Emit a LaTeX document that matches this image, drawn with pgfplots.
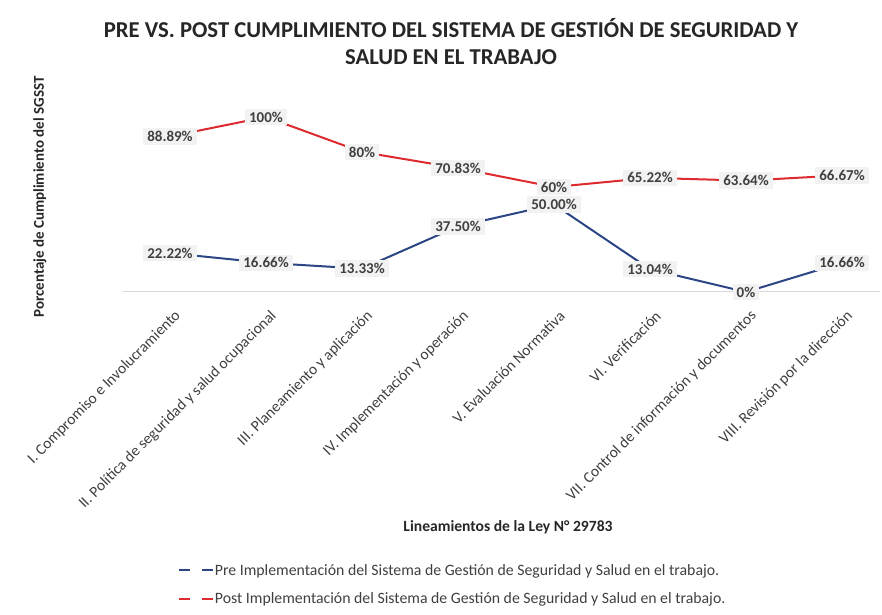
\documentclass[border=0pt]{standalone}
\usepackage{pgfplots}
\pgfplotsset{compat=1.18}
\usepackage{fontspec}
\setmainfont{Carlito}
\definecolor{preblue}{HTML}{2B4585}
\definecolor{postred}{HTML}{DC2A2E}
\definecolor{txtgray}{HTML}{404040}
\definecolor{boxgray}{HTML}{F2F2F2}
\definecolor{axgray}{HTML}{D9D9D9}
\begin{document}
\begin{tikzpicture}
\useasboundingbox (0,0) rectangle (882bp,615bp);
\begin{axis}[
  at={(122bp,323bp)}, anchor=south west,
  scale only axis, width=758.4bp, height=210bp,
  xmin=-0.5, xmax=7.4, ymin=0, ymax=120,
  clip=false,
  axis y line=none,
  axis x line*=bottom,
  x axis line style={draw=axgray, line width=1bp, -},
  xtick={0,...,7}, major tick length=0pt,
  xticklabels={I. Compromiso e Involucramiento, II. Política de seguridad y salud ocupacional, III. Planeamiento y aplicación, IV. Implementación y operación, V. Evaluación Normativa, VI. Verificación, VII. Control de información y documentos, VIII. Revisión por la dirección},
  xticklabel style={rotate=45, anchor=east, font=\fontsize{15.5bp}{17bp}\selectfont, text=txtgray, yshift=-21bp, xshift=-6bp},
  point meta=explicit symbolic,
  nodes near coords={\pgfplotspointmeta\%},
  every node near coord/.append style={anchor=center, fill=boxgray, text=txtgray, font=\bfseries\fontsize{15bp}{17bp}\selectfont, inner xsep=4bp, inner ysep=3bp},
  legend style={at={(0.0735,-1.285)}, anchor=north west, draw=none, fill=none, font=\fontsize{15.8bp}{18bp}\selectfont, text=txtgray, row sep=12bp, inner sep=0pt, nodes={inner xsep=1bp}},
  legend cell align=left,
  legend image code/.code={\draw[#1, line width=2bp, dash pattern=on 11bp off 12bp] (0bp,0bp) -- (34bp,0bp);},
]
\addplot[preblue, line width=2bp] table[meta=l] {
x y l
0 22.22 22.22
1 16.66 16.66
2 13.33 13.33
3 37.50 37.50
4 50.00 50.00
5 13.04 13.04
6 0 0
7 16.66 16.66
};
\addlegendentry{Pre Implementación del Sistema de Gestión de Seguridad y Salud en el trabajo.}
\addplot[postred, line width=2bp] table[meta=l] {
x y l
0 88.89 88.89
1 100 100
2 80 80
3 70.83 70.83
4 60 60
5 65.22 65.22
6 63.64 63.64
7 66.67 66.67
};
\addlegendentry{Post Implementación del Sistema de Gestión de Seguridad y Salud en el trabajo.}
\end{axis}
\node[font=\bfseries\fontsize{22.7bp}{27bp}\selectfont, text=black!85, align=center] at (451bp,573bp) {PRE VS. POST CUMPLIMIENTO DEL SISTEMA DE GESTIÓN DE SEGURIDAD Y\\SALUD EN EL TRABAJO};
\node[font=\bfseries\fontsize{15bp}{17bp}\selectfont, text=black!85, rotate=90] at (40bp,418bp) {Porcentaje de Cumplimiento del SGSST};
\node[font=\bfseries\fontsize{15.6bp}{18bp}\selectfont, text=black!85] at (508bp,88bp) {Lineamientos de la Ley N° 29783};
\end{tikzpicture}
\end{document}
